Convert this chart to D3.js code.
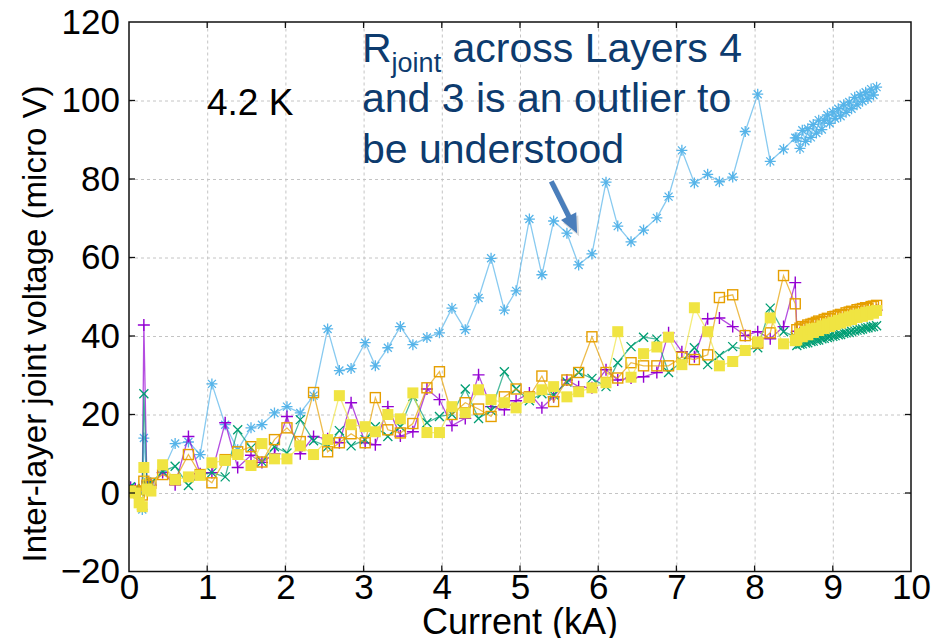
<!DOCTYPE html>
<meta charset="utf-8">
<style>
body { margin: 0; background: #fff; }
.canvas { display: block; }
.axis text { font: 35px "Liberation Sans", Arial, sans-serif; fill: #000; }
.axis path, .axis line { stroke: none; }
.grid line { stroke: #c4c4c4; stroke-width: 1; stroke-dasharray: 3,3; }
.grid path { stroke: none; }
.frame { fill: none; stroke: #111; stroke-width: 1.5; }
.trace { fill: none; stroke-width: 1.3; stroke-opacity: 0.7; }
.label { font: 33px "Liberation Sans", Arial, sans-serif; fill: #000; }
.xlabel { font: 36px "Liberation Sans", Arial, sans-serif; fill: #000; text-anchor: middle; }
.temp { font: 37px "Liberation Sans", Arial, sans-serif; fill: #000; }
.note { font: 41px "Liberation Sans", Arial, sans-serif; fill: #0d3b6e; }
</style>
<svg class="canvas"></svg>
<script src="https://cdn.jsdelivr.net/npm/d3@7"></script>
<script>

// current (kA): initial points near zero, ramp, then the slow high-current part
var current = [
	0.02, 0.08, 0.13, 0.17, 0.19, 0.23, 0.28,
	0.43, 0.59, 0.76, 0.91, 1.06, 1.23, 1.39, 1.56, 1.70, 1.86, 2.02, 2.19, 2.36, 2.54, 2.69, 2.84, 3.02,
	3.15, 3.31, 3.47, 3.63, 3.81, 3.97, 4.13, 4.30, 4.47, 4.63, 4.80, 4.95, 5.12, 5.28, 5.43, 5.60, 5.75,
	5.92, 6.10, 6.25, 6.42, 6.58, 6.75, 6.90, 7.07, 7.23, 7.40, 7.55, 7.72, 7.88, 8.04, 8.20, 8.37, 8.52,
	8.54, 8.58, 8.61, 8.65, 8.68, 8.72, 8.75, 8.79, 8.82, 8.86, 8.89, 8.93, 8.96, 9.00, 9.03,
	9.07, 9.10, 9.14, 9.17, 9.21, 9.24, 9.28, 9.31, 9.35, 9.38, 9.42, 9.45, 9.49, 9.52, 9.56
];

// joint voltages (micro V)
var vStar = [
	1.6, 1.2, 0.5, -4.2, 14.0, 3.0, 2.5,
	5.5, 12.6, 13.0, 9.8, 27.8, 17.4, 11.0, 16.6, 17.4, 20.4, 22.0, 20.4, 24.8, 41.8, 31.2, 31.7, 38.3,
	32.4, 37.0, 42.4, 37.8, 39.6, 40.8, 47.1, 41.6, 49.7, 59.8, 46.6, 51.5, 69.8, 55.6, 69.3, 66.2, 58.1,
	60.9, 79.2, 68.0, 64.0, 67.0, 70.1, 75.5, 87.3, 79.0, 81.2, 79.3, 80.5, 92.1, 101.6, 84.5, 87.6, 90.5,
	90.5, 87.8, 92.4, 89.6, 92.8, 90.6, 93.9, 91.7, 95.0, 92.6, 94.9, 96.3, 94.2, 97.1, 95.4,
	97.9, 96.0, 98.9, 97.0, 99.6, 97.9, 100.8, 98.9, 101.4, 99.8, 102.1, 100.5, 102.9, 101.4, 103.4
];
var vPlus = [
	1.4, 1.0, 0.8, 1.5, 42.8, 1.5, 2.0,
	5.2, 2.1, 14.4, 4.9, 5.2, 17.9, 6.5, 9.6, 7.8, 10.0, 19.5, 10.0, 14.4, 13.8, 12.8, 23.0, 12.8,
	12.3, 22.0, 14.5, 15.6, 26.5, 23.8, 17.2, 19.0, 30.1, 22.0, 21.2, 23.5, 25.5, 21.7, 24.5, 28.8, 27.1,
	26.8, 31.4, 28.8, 29.3, 29.6, 30.7, 40.8, 36.0, 34.7, 44.4, 44.6, 42.4, 40.1, 41.1, 39.3, 42.4, 53.6,
	41.2, 40.8, 41.5, 41.6, 41.9, 42.1, 42.0, 42.5, 42.6, 42.9, 43.0, 43.2, 43.5, 43.4, 43.8,
	44.0, 44.1, 44.3, 44.6, 44.5, 44.9, 45.1, 45.2, 45.4, 45.7, 45.6, 46.0, 46.2, 46.3, 46.6
];
var vCross = [
	1.6, 1.0, 0.5, 1.0, 25.3, 2.1, 2.5,
	5.5, 6.8, 1.9, 4.7, 5.2, 4.1, 16.1, 11.5, 8.0, 11.8, 10.2, 18.7, 13.3, 11.8, 15.9, 12.0, 13.6,
	16.9, 14.4, 16.9, 24.6, 17.9, 19.5, 20.0, 26.5, 19.0, 21.0, 30.9, 26.5, 23.5, 25.3, 25.0, 28.3, 30.7,
	29.2, 27.1, 33.2, 37.3, 39.7, 39.2, 30.7, 33.5, 37.0, 32.7, 35.0, 37.3, 36.5, 37.0, 47.1, 41.1, 39.8,
	37.6, 37.9, 38.0, 38.2, 38.3, 38.6, 38.7, 38.9, 39.0, 39.3, 39.4, 39.6, 39.8, 39.9, 40.1,
	40.3, 40.4, 40.7, 40.8, 40.9, 41.2, 41.3, 41.5, 41.6, 41.8, 42.0, 42.1, 42.3, 42.4, 42.6
];
var vOpenSq = [
	0.4, 0.5, 0.0, -0.5, 3.0, 2.0, 2.5,
	4.7, 3.4, 9.8, 4.7, 2.6, 8.5, 10.5, 11.8, 7.9, 13.6, 16.6, 13.1, 25.6, 10.5, 12.8, 15.1, 12.8,
	24.3, 16.1, 15.3, 17.7, 26.8, 30.9, 20.0, 23.0, 21.4, 19.5, 24.5, 26.5, 24.5, 29.8, 23.3, 28.8, 30.7,
	39.8, 30.7, 29.3, 33.2, 32.4, 32.4, 32.4, 34.6, 34.0, 35.2, 49.8, 50.5, 40.1, 38.2, 40.8, 55.4, 48.2,
	41.6, 42.0, 42.4, 42.3, 42.8, 43.0, 43.2, 43.5, 43.8, 43.7, 44.2, 44.5, 44.4, 44.9, 45.0,
	45.3, 45.5, 45.4, 45.9, 46.1, 46.3, 46.2, 46.7, 46.8, 47.0, 47.2, 47.1, 47.5, 47.6, 47.8
];
var vFillSq = [
	0.4, 0.0, -2.5, -3.5, 6.5, 1.0, 0.5,
	7.2, 3.4, 4.1, 4.5, 7.7, 8.3, 9.8, 7.0, 12.6, 8.7, 8.7, 12.0, 9.8, 13.6, 24.8, 17.4, 16.9,
	15.6, 20.0, 18.9, 25.5, 15.4, 15.4, 22.0, 20.4, 26.3, 23.8, 23.0, 21.7, 24.3, 26.3, 27.1, 24.5, 25.8,
	26.8, 28.1, 41.1, 29.5, 35.5, 37.2, 39.7, 32.7, 47.2, 41.1, 32.4, 33.5, 36.3, 38.5, 44.6, 38.0, 38.8,
	39.0, 40.6, 39.8, 41.2, 40.3, 41.8, 40.9, 42.0, 41.4, 42.6, 41.9, 43.1, 42.4, 43.5, 42.9,
	44.0, 43.3, 44.4, 43.8, 44.9, 44.2, 45.3, 44.7, 45.6, 45.0, 46.0, 45.4, 46.3, 45.8, 46.5
];

var xTicks = [0, 1, 2, 3, 4, 5, 6, 7, 8, 9, 10];
var yTicks = [-20, 0, 20, 40, 60, 80, 100, 120];

var series = [
	{ values: vStar, color: "#56b4e9", shape: "star" },
	{ values: vPlus, color: "#9400d3", shape: "plus" },
	{ values: vCross, color: "#009e73", shape: "cross" },
	{ values: vOpenSq, color: "#e69f00", shape: "open" },
	{ values: vFillSq, color: "#f0e442", shape: "fill" }
];

var width = 943,
	height = 638;

var PLOT_L = 129, PLOT_R = 911, PLOT_T = 22, PLOT_B = 571.5;

var canvas = d3.select(".canvas")
	.attr("width", width)
	.attr("height", height);

var x = d3.scaleLinear().domain([0, 10]).range([PLOT_L, PLOT_R]);
var y = d3.scaleLinear().domain([-20, 120]).range([PLOT_B, PLOT_T]);

// dashed grid
canvas.append("g")
	.attr("class", "grid")
	.attr("transform", "translate(0," + PLOT_B + ")")
	.call(d3.axisBottom(x).tickValues(xTicks.slice(1, -1)).tickSize(-(PLOT_B - PLOT_T)).tickFormat(""));

canvas.append("g")
	.attr("class", "grid")
	.attr("transform", "translate(" + PLOT_L + ",0)")
	.call(d3.axisLeft(y).tickValues(yTicks.slice(1, -1)).tickSize(-(PLOT_R - PLOT_L)).tickFormat(""));

// data
canvas.append("clipPath").attr("id", "plotclip")
	.append("rect")
	.attr("x", PLOT_L).attr("y", PLOT_T)
	.attr("width", PLOT_R - PLOT_L).attr("height", PLOT_B - PLOT_T);

var plot = canvas.append("g").attr("clip-path", "url(#plotclip)");

var line = d3.line()
	.x(function(d, i) { return x(current[i]); })
	.y(function(d) { return y(d); });

function marker(g, shape, color) {
	if (shape == "star") {
		g.append("path")
			.attr("d", "M-5.5,0H5.5M0,-5.5V5.5M-4,-4L4,4M-4,4L4,-4")
			.attr("stroke", color).attr("stroke-width", 1.3).attr("fill", "none");
	} else if (shape == "plus") {
		g.append("path")
			.attr("d", "M-6,0H6M0,-6V6")
			.attr("stroke", color).attr("stroke-width", 1.4).attr("fill", "none");
	} else if (shape == "cross") {
		g.append("path")
			.attr("d", "M-4.5,-4.5L4.5,4.5M-4.5,4.5L4.5,-4.5")
			.attr("stroke", color).attr("stroke-width", 1.3).attr("fill", "none");
	} else if (shape == "open") {
		g.append("rect")
			.attr("x", -5).attr("y", -5).attr("width", 10).attr("height", 10)
			.attr("stroke", color).attr("stroke-width", 1.4).attr("fill", "none");
	} else {
		g.append("rect")
			.attr("x", -5.5).attr("y", -5.5).attr("width", 11).attr("height", 11)
			.attr("fill", color);
	}
}

series.forEach(function(s) {
	plot.append("path")
		.attr("class", "trace")
		.attr("stroke", s.color)
		.attr("d", line(s.values));

	plot.selectAll(null).data(s.values)
		.enter().append("g")
		.attr("transform", function(d, i) {
			return "translate(" + x(current[i]) + "," + y(d) + ")"; })
		.each(function() { marker(d3.select(this), s.shape, s.color); });
});

// frame and mirrored ticks
canvas.append("rect")
	.attr("class", "frame")
	.attr("x", PLOT_L).attr("y", PLOT_T)
	.attr("width", PLOT_R - PLOT_L).attr("height", PLOT_B - PLOT_T);

var ticks = canvas.append("g").attr("stroke", "#111").attr("stroke-width", 1.3);
xTicks.slice(1, -1).forEach(function(t) {
	ticks.append("line").attr("x1", x(t)).attr("x2", x(t)).attr("y1", PLOT_T).attr("y2", PLOT_T + 6);
	ticks.append("line").attr("x1", x(t)).attr("x2", x(t)).attr("y1", PLOT_B).attr("y2", PLOT_B - 6);
});
yTicks.slice(1, -1).forEach(function(t) {
	ticks.append("line").attr("x1", PLOT_L).attr("x2", PLOT_L + 6).attr("y1", y(t)).attr("y2", y(t));
	ticks.append("line").attr("x1", PLOT_R).attr("x2", PLOT_R - 6).attr("y1", y(t)).attr("y2", y(t));
});

// tick labels
canvas.append("g")
	.attr("class", "axis")
	.attr("transform", "translate(0," + PLOT_B + ")")
	.call(d3.axisBottom(x).tickValues(xTicks).tickSize(0).tickPadding(3).tickFormat(d3.format("d")));

canvas.append("g")
	.attr("class", "axis")
	.attr("transform", "translate(" + PLOT_L + ",0)")
	.call(d3.axisLeft(y).tickValues(yTicks).tickSize(0).tickPadding(9).tickFormat(d3.format("d")));

// axis titles
canvas.append("text")
	.attr("class", "label")
	.attr("text-anchor", "middle")
	.attr("transform", "translate(46,324) rotate(-90)")
	.text("Inter-layer joint voltage (micro V)");

canvas.append("text")
	.attr("class", "xlabel")
	.attr("x", x(5))
	.attr("y", 634)
	.text("Current (kA)");

canvas.append("text")
	.attr("class", "temp")
	.attr("x", 207)
	.attr("y", 115)
	.text("4.2 K");

// annotation
var note = canvas.append("text").attr("class", "note");
var l1 = note.append("tspan").attr("x", 362).attr("y", 62);
l1.append("tspan").text("R");
l1.append("tspan").attr("dy", 10).style("font-size", "27px").text("joint");
l1.append("tspan").attr("dy", -10).text(" across Layers 4");
note.append("tspan").attr("x", 362).attr("y", 112).text("and 3 is an outlier to");
note.append("tspan").attr("x", 362).attr("y", 163).text("be understood");

// arrow pointing at the L4-L3 trace
var a0 = [x(5.40), y(79.4)], a1 = [x(5.73), y(66.2)];
var dx = a1[0] - a0[0], dy = a1[1] - a0[1], len = Math.sqrt(dx * dx + dy * dy);
var ux = dx / len, uy = dy / len, px = -uy, py = ux;
var HEAD = 19, HW = 8.5, SW = 2.6;
var bx = a1[0] - ux * HEAD, by = a1[1] - uy * HEAD;
var arrowPts = [
	[a0[0] + px * SW, a0[1] + py * SW],
	[bx + px * SW, by + py * SW],
	[bx + px * HW, by + py * HW],
	a1,
	[bx - px * HW, by - py * HW],
	[bx - px * SW, by - py * SW],
	[a0[0] - px * SW, a0[1] - py * SW]
];
canvas.append("path")
	.attr("d", "M" + arrowPts.join("L") + "Z")
	.attr("transform", "translate(2,3)")
	.attr("fill", "#000").attr("opacity", 0.15);
canvas.append("path")
	.attr("d", "M" + arrowPts.join("L") + "Z")
	.attr("fill", "#4a7ebb");

</script>
